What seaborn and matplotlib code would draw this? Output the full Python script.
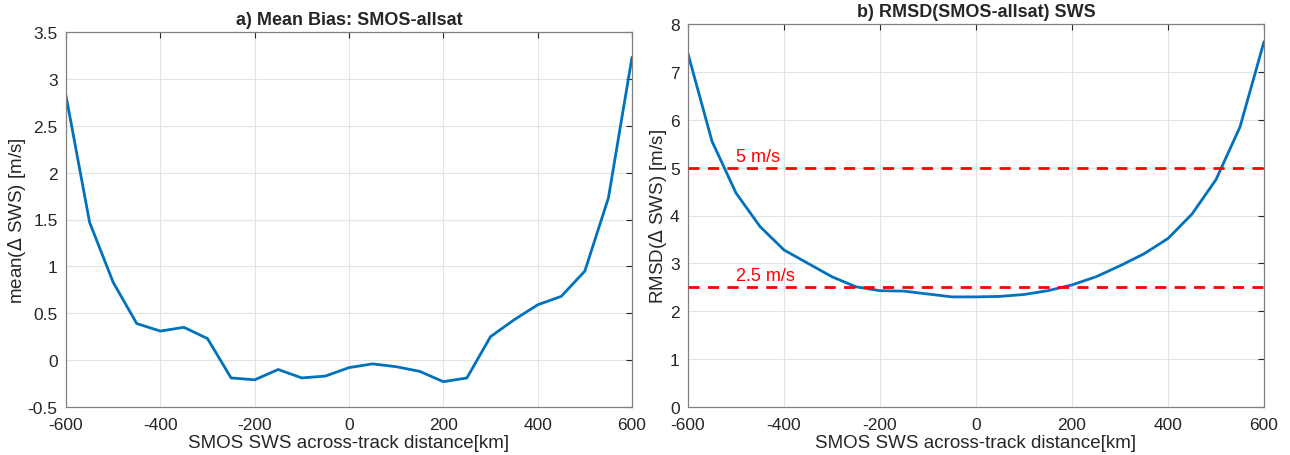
import numpy as np
import pandas as pd
import matplotlib
matplotlib.use("Agg")
import matplotlib.pyplot as plt
import seaborn as sns

# Across-track distance bins [km]
distance_km = [-600, -550, -500, -450, -400, -350, -300, -250, -200, -150, -100, -50,
               0, 50, 100, 150, 200, 250, 300, 350, 400, 450, 500, 550, 600]

# Mean bias of SMOS minus all-satellite wind speed [m/s]
mean_bias = [2.82, 1.47, 0.83, 0.39, 0.31, 0.35, 0.23, -0.19, -0.21, -0.10, -0.19, -0.17,
             -0.08, -0.04, -0.07, -0.12, -0.23, -0.19, 0.25, 0.43, 0.59, 0.68, 0.95, 1.73, 3.23]

# RMSD of SMOS minus all-satellite wind speed [m/s]
rmsd = [7.38, 5.55, 4.47, 3.77, 3.28, 3.00, 2.72, 2.51, 2.43, 2.42, 2.36, 2.30,
        2.30, 2.31, 2.35, 2.43, 2.55, 2.72, 2.95, 3.20, 3.52, 4.03, 4.75, 5.85, 7.63]

thresholds = [5.0, 2.5]
threshold_labels = ["5 m/s", "2.5 m/s"]

sns.set_style("whitegrid")
plt.rcParams["font.family"] = ["Liberation Sans", "DejaVu Sans"]
plt.rcParams["axes.unicode_minus"] = False

df = pd.DataFrame({"dist": distance_km, "bias": mean_bias, "rmsd": rmsd})

fig = plt.figure(figsize=(12.9, 4.56), dpi=100)
ax1 = fig.add_axes([66 / 1290, 1 - 408 / 456, 566 / 1290, 375 / 456])
ax2 = fig.add_axes([688 / 1290, 1 - 408 / 456, 576 / 1290, 383 / 456])

line_color = "#0072BD"
grid_color = "#e3e3e3"
box_color = "#262626"

sns.lineplot(data=df, x="dist", y="bias", ax=ax1, color=line_color, linewidth=2)
sns.lineplot(data=df, x="dist", y="rmsd", ax=ax2, color=line_color, linewidth=2)

for val, lab in zip(thresholds, threshold_labels):
    ax2.axhline(val, color="#ff0000", linestyle=(0, (4, 3)), linewidth=2, zorder=3)
    ax2.text(-500, val + 0.06, lab, color="#ff0000", fontsize=13, ha="left", va="bottom")

ax1.set_xlim(-600, 600)
ax1.set_ylim(-0.5, 3.5)
ax1.set_xticks(np.arange(-600, 601, 200))
ax1.set_yticks(np.arange(-0.5, 3.51, 0.5))
ax1.set_yticklabels(["-0.5", "0", "0.5", "1", "1.5", "2", "2.5", "3", "3.5"])
ax1.set_title("a) Mean Bias: SMOS-allsat", fontsize=13, fontweight="bold", pad=6)
ax1.set_ylabel("mean($\\Delta$ SWS) [m/s]", fontsize=13.5, color=box_color, labelpad=0)

ax2.set_xlim(-600, 600)
ax2.set_ylim(0, 8)
ax2.set_xticks(np.arange(-600, 601, 200))
ax2.set_yticks(np.arange(0, 8.1, 1))
ax2.set_title("b) RMSD(SMOS-allsat) SWS", fontsize=13, fontweight="bold", pad=6)
ax2.set_ylabel("RMSD($\\Delta$ SWS) [m/s]", fontsize=13.5, color=box_color, labelpad=1)

for ax in (ax1, ax2):
    ax.set_xlabel("SMOS SWS across-track distance[km]", fontsize=13.5, color=box_color, labelpad=2)
    ax.grid(True, color=grid_color, linewidth=0.8)
    ax.tick_params(axis="x", pad=7)
    ax.tick_params(axis="y", pad=6)
    ax.tick_params(axis="both", direction="in", length=4, width=0.8, colors=box_color,
                   labelsize=12.5, top=True, right=True, labeltop=False, labelright=False)
    for sp in ax.spines.values():
        sp.set_visible(True)
        sp.set_color("#808080")
        sp.set_linewidth(0.9)
    ax.set_facecolor("white")

fig.savefig("out.png", dpi=100, facecolor="white")
